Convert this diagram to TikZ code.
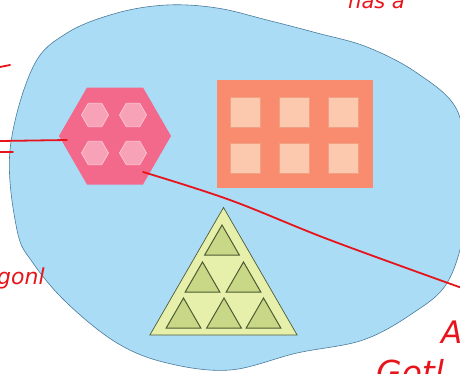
\documentclass[tikz,border=0pt]{standalone}
\usepackage{fontspec}
\setsansfont{DejaVu Sans}
\usetikzlibrary{shapes.geometric}
\definecolor{blobfill}{HTML}{AADCF6}
\definecolor{blobline}{HTML}{4A7A9A}
\definecolor{hexfill}{HTML}{F2698C}
\definecolor{smallhexfill}{HTML}{F7A2B7}
\definecolor{smallhexline}{HTML}{FBC3D1}
\definecolor{rectfill}{HTML}{F98C6E}
\definecolor{sqfill}{HTML}{FCC8AE}
\definecolor{sqline}{HTML}{EFA283}
\definecolor{trifill}{HTML}{E6F0AA}
\definecolor{triline}{HTML}{4E5A34}
\definecolor{smalltrifill}{HTML}{C9D886}
\definecolor{inkred}{HTML}{E8141C}
\tikzset{
  bighex/.style={regular polygon, regular polygon sides=6, minimum size=112pt, inner sep=0pt, fill=hexfill, draw=none},
  smallhex/.style={regular polygon, regular polygon sides=6, minimum size=27pt, inner sep=0pt, fill=smallhexfill, draw=smallhexline, line width=0.8pt},
  rectbox/.style={rectangle, minimum width=156pt, minimum height=108pt, inner sep=0pt, fill=rectfill, draw=none},
  sqbox/.style={rectangle, minimum size=30pt, inner sep=0pt, fill=sqfill, draw=sqline, line width=0.5pt},
  bigtri/.style={regular polygon, regular polygon sides=3, minimum size=170pt, inner sep=0pt, fill=trifill, draw=triline, line width=0.7pt},
  smalltri/.style={regular polygon, regular polygon sides=3, minimum size=40pt, inner sep=0pt, fill=smalltrifill, draw=triline, line width=1pt},
  redink/.style={draw=inkred, line width=1.8pt, line cap=round},
  note/.style={text=inkred, inner sep=0pt, font=\sffamily\itshape}
}
\begin{document}
\begin{tikzpicture}[x=1pt, y=-1pt]
\useasboundingbox (0,0) rectangle (460,373);
% blob
\draw[fill=blobfill, draw=blobline, line width=0.6pt]
  plot[smooth cycle, tension=0.6] coordinates {
  (10,150) (17,230) (33,263) (67,303) (117,343) (167,363) (230,370)
  (297,353) (363,340) (413,313) (447,283) (464,230) (465,170) (457,110)
  (417,73) (367,47) (317,33) (267,20) (217,8) (167,5) (117,13) (67,33) (33,67)};
% hexagon group
\node[bighex] (hex) at (115,136) {};
\node[smallhex] (h1) at (95,115) {};
\node[smallhex] (h2) at (133,115) {};
\node[smallhex] (h3) at (95,153) {};
\node[smallhex] (h4) at (133,153) {};
% rectangle group
\node[rectbox] (rect) at (295,134) {};
\foreach \i/\x in {1/245,2/294,3/343}{
  \node[sqbox] (sa\i) at (\x,112.5) {};
  \node[sqbox] (sb\i) at (\x,158.5) {};
}
% triangle group
\node[bigtri] (tri) at (223.5,292.5) {};
\node[smalltri] (t1) at (222,245) {};
\node[smalltri] (t2) at (202.5,282) {};
\node[smalltri] (t3) at (243.5,282) {};
\node[smalltri] (t4) at (183.5,318) {};
\node[smalltri] (t5) at (224,318) {};
\node[smalltri] (t6) at (263.5,318) {};
% red annotations
\coordinate (la) at (0,141);
\coordinate (hl) at (67,140);
\coordinate (lb1) at (0,152);
\coordinate (lb2) at (13,152);
\coordinate (lc1) at (0,67);
\coordinate (lc2) at (10,65);
\coordinate (hr) at (143,172);
\coordinate (m1) at (230,200);
\coordinate (m2) at (330,240);
\coordinate (re) at (462,288);
\draw[redink] (la) -- (hl);
\draw[redink] (lb1) -- (lb2);
\draw[redink] (lc1) -- (lc2);
\draw[redink] plot[smooth, tension=0.6] coordinates {(hr) (m1) (m2) (re)};
\node[note, anchor=base west, font=\sffamily\itshape\fontsize{21}{21}\selectfont] (t-has) at (348,8) {has a};
\node[note, anchor=base west, font=\sffamily\itshape\fontsize{22}{22}\selectfont] (t-gon) at (-3,284) {gonl};
\node[note, anchor=base west, font=\sffamily\itshape\fontsize{31}{31}\selectfont] (t-a) at (441,343) {A};
\node[note, anchor=base west, font=\sffamily\itshape\fontsize{33}{33}\selectfont] (t-g) at (376,384) {Gotl};
\end{tikzpicture}
\end{document}
